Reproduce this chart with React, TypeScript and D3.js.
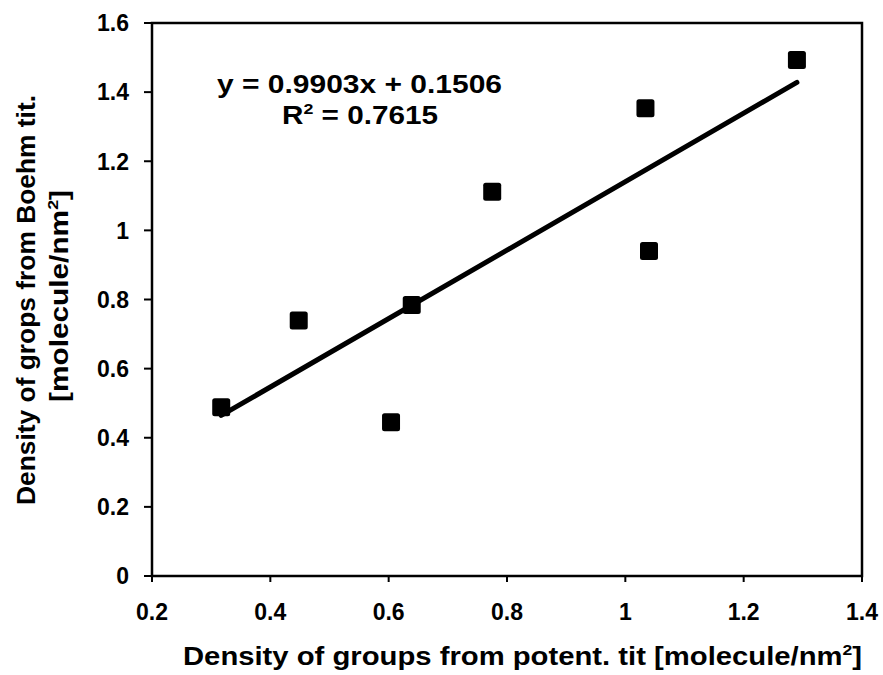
import React from "react";
import * as d3 from "d3";

// Surface group densities: potentiometric titration (x) vs Boehm titration (y)
const potentTit = [0.317, 0.448, 0.604, 0.639, 0.775, 1.034, 1.04, 1.29];
const boehmTit = [0.488, 0.739, 0.445, 0.784, 1.112, 1.353, 0.94, 1.493];

// Linear fit reported for the data
const fitSlope = 0.9903;
const fitIntercept = 0.1506;
const fitR2 = 0.7615;

const xTicks = [0.2, 0.4, 0.6, 0.8, 1, 1.2, 1.4];
const yTicks = [0, 0.2, 0.4, 0.6, 0.8, 1, 1.2, 1.4, 1.6];

const W = 883;
const H = 675;
const left = 152;
const right = 862;
const top = 23;
const bottom = 576;
const font = "'Liberation Sans', Arial, Helvetica, sans-serif";

export default function App() {
  const x = d3.scaleLinear().domain([0.2, 1.4]).range([left, right]);
  const y = d3.scaleLinear().domain([0, 1.6]).range([bottom, top]);

  const xMin = d3.min(potentTit) as number;
  const xMax = d3.max(potentTit) as number;
  const fitLine = d3
    .line<number>()
    .x((v) => x(v))
    .y((v) => y(fitSlope * v + fitIntercept))([xMin, xMax]) as string;

  const fmt = (v: number) => String(+v.toFixed(1));
  const marker = 18;

  return (
    <svg
      width={W}
      height={H}
      style={{ position: "absolute", left: 0, top: 0, background: "#fff" }}
      fontFamily={font}
      fontWeight="bold"
    >
      <rect x={0} y={0} width={W} height={H} fill="#fff" />

      {/* plot frame */}
      <rect
        x={left}
        y={top}
        width={right - left}
        height={bottom - top}
        fill="none"
        stroke="#000"
        strokeWidth={2.5}
      />

      {/* y axis ticks and labels */}
      {yTicks.map((t) => (
        <g key={"y" + t}>
          <line x1={left - 8} x2={left} y1={y(t)} y2={y(t)} stroke="#000" strokeWidth={2} />
          <text
            x={129}
            y={y(t)}
            dy="0.36em"
            textAnchor="end"
            fontSize={23}
            fill="#000"
          >
            {fmt(t)}
          </text>
        </g>
      ))}

      {/* x axis ticks and labels */}
      {xTicks.map((t) => (
        <g key={"x" + t}>
          <line x1={x(t)} x2={x(t)} y1={bottom} y2={bottom + 6} stroke="#000" strokeWidth={2} />
          <text x={x(t)} y={620} textAnchor="middle" fontSize={23} fill="#000">
            {fmt(t)}
          </text>
        </g>
      ))}

      {/* trend line */}
      <path d={fitLine} fill="none" stroke="#000" strokeWidth={5} strokeLinecap="round" />

      {/* data points */}
      {potentTit.map((v, i) => (
        <rect
          key={"p" + i}
          x={x(v) - marker / 2}
          y={y(boehmTit[i]) - marker / 2}
          width={marker}
          height={marker}
          rx={2.5}
          fill="#000"
        />
      ))}

      {/* fit equation */}
      <text x={217} y={93} fontSize={25} fill="#000" textLength={285} lengthAdjust="spacingAndGlyphs">
        {`y = ${fitSlope}x + ${fitIntercept}`}
      </text>
      <text x={282} y={124} fontSize={25} fill="#000" textLength={156} lengthAdjust="spacingAndGlyphs">
        R<tspan fontSize={15} dy={-10}>2</tspan>
        <tspan dy={10}>{` = ${fitR2}`}</tspan>
      </text>

      {/* axis titles */}
      <text x={183} y={665} fontSize={25} fill="#000" textLength={679} lengthAdjust="spacingAndGlyphs">
        Density of groups from potent. tit [molecule/nm<tspan fontSize={15} dy={-10}>2</tspan>
        <tspan dy={10}>]</tspan>
      </text>
      <g transform="translate(35,0) rotate(-90)">
        <text x={-505} y={0} fontSize={25} fill="#000" textLength={410} lengthAdjust="spacingAndGlyphs">
          Density of grops from Boehm tit.
        </text>
        <text x={-402} y={33} fontSize={25} fill="#000" textLength={212} lengthAdjust="spacingAndGlyphs">
          [molecule/nm<tspan fontSize={15} dy={-10}>2</tspan>
          <tspan dy={10}>]</tspan>
        </text>
      </g>
    </svg>
  );
}
